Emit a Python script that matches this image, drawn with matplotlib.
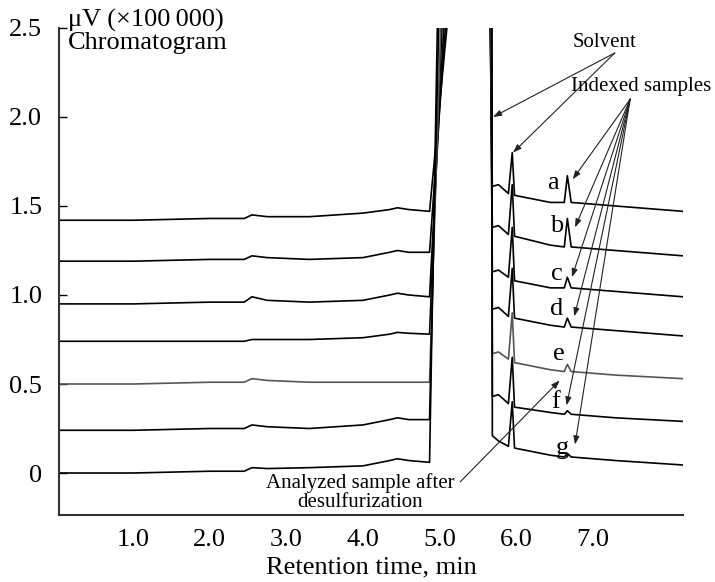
import matplotlib
matplotlib.use("Agg")
import matplotlib.pyplot as plt

plt.rcParams['font.family'] = ['Liberation Serif', 'DejaVu Serif']

# retention times (min) before and after the off-scale solvent peak
left_t = [0.03, 1.0, 2.0, 2.45, 2.55, 2.75, 3.3, 4.0, 4.35, 4.45, 4.6, 4.87]
right_t = [5.69, 5.77, 5.90, 5.95, 5.98, 6.45, 6.63, 6.67, 6.72, 7.3, 8.18]
solvent_level = 2.7  # off scale, clipped by the axes

labels = ['a', 'b', 'c', 'd', 'e', 'f', 'g']
rise_top = [5.14, 5.11, 5.08, 5.05, 5.03, 5.00, 4.98]
fall_top = [5.655, 5.66, 5.665, 5.67, 5.675, 5.68, 5.685]

# signal (x100 000 uV), 12 points on left_t then 11 points on right_t
trace_a = [1.42, 1.42, 1.43, 1.43, 1.45, 1.44, 1.44, 1.46, 1.48, 1.49, 1.48, 1.47,
           1.61, 1.62, 1.57, 1.80, 1.56, 1.52, 1.52, 1.67, 1.52, 1.50, 1.47]
trace_b = [1.19, 1.19, 1.20, 1.20, 1.22, 1.21, 1.20, 1.21, 1.24, 1.25, 1.24, 1.24,
           1.38, 1.39, 1.34, 1.62, 1.33, 1.28, 1.27, 1.43, 1.27, 1.25, 1.22]
trace_c = [0.95, 0.95, 0.96, 0.96, 0.99, 0.97, 0.96, 0.97, 1.00, 1.01, 1.00, 0.99,
           1.13, 1.14, 1.10, 1.38, 1.08, 1.04, 1.04, 1.10, 1.04, 1.02, 0.99]
trace_d = [0.74, 0.74, 0.74, 0.74, 0.75, 0.75, 0.75, 0.76, 0.78, 0.79, 0.785, 0.78,
           0.92, 0.93, 0.88, 1.15, 0.87, 0.83, 0.82, 0.87, 0.82, 0.80, 0.77]
trace_e = [0.50, 0.50, 0.51, 0.51, 0.53, 0.52, 0.51, 0.51, 0.51, 0.51, 0.51, 0.51,
           0.67, 0.68, 0.64, 0.90, 0.62, 0.58, 0.57, 0.61, 0.57, 0.55, 0.53]
trace_f = [0.24, 0.24, 0.25, 0.25, 0.27, 0.26, 0.25, 0.27, 0.30, 0.31, 0.30, 0.30,
           0.43, 0.44, 0.39, 0.65, 0.37, 0.34, 0.33, 0.35, 0.33, 0.31, 0.29]
trace_g = [0.00, 0.00, 0.01, 0.01, 0.03, 0.025, 0.03, 0.04, 0.07, 0.08, 0.07, 0.06,
           0.21, 0.18, 0.15, 0.40, 0.14, 0.10, 0.09, 0.11, 0.09, 0.07, 0.045]
traces = [trace_a, trace_b, trace_c, trace_d, trace_e, trace_f, trace_g]
colors = ['black', 'black', 'black', 'black', '#555555', 'black', 'black']

# label positions (min, signal) and arrow targets
label_pos = [(6.48, 1.63), (6.53, 1.39), (6.53, 1.12), (6.53, 0.92),
             (6.56, 0.67), (6.52, 0.40), (6.60, 0.14)]
indexed_tips = [(6.74, 1.65), (6.77, 1.38), (6.73, 1.10), (6.76, 0.88),
                (6.66, 0.38), (6.77, 0.16)]
solvent_tips = [(5.70, 2.0), (5.96, 1.80)]

xticks = [1, 2, 3, 4, 5, 6, 7]
yticks = [0, 0.5, 1.0, 1.5, 2.0, 2.5]

fig = plt.figure(figsize=(7.15, 5.82), dpi=100)
ax = fig.add_axes([0.0825, 0.1151, 0.8727, 0.8368])

n_left = len(left_t)
for i, tr in enumerate(traces):
    t = left_t + [rise_top[i], fall_top[i]] + right_t
    y = tr[:n_left] + [solvent_level, solvent_level] + tr[n_left:]
    ax.plot(t, y, color=colors[i], lw=1.2)

for lab, (x, y) in zip(labels, label_pos):
    ax.text(x, y, lab, fontsize=19, ha='center', va='center')

arrow = dict(arrowstyle='-|>,head_length=0.5,head_width=0.18', color='#222222', lw=0.8,
             shrinkA=0, shrinkB=0)
ax.text(7.15, 2.42, 'Solvent', fontsize=15, ha='center', va='center')
for tip in solvent_tips:
    ax.annotate('', xy=tip, xytext=(7.29, 2.36), arrowprops=arrow)

ax.text(7.63, 2.17, 'Indexed samples', fontsize=15, ha='center', va='center')
for tip in indexed_tips:
    ax.annotate('', xy=tip, xytext=(7.49, 2.10), arrowprops=arrow)

ax.text(3.96, -0.11, 'Analyzed sample after\ndesulfurization', fontsize=15,
        ha='center', va='center', linespacing=0.95)
ax.annotate('', xy=(6.57, 0.52), xytext=(5.27, -0.05), arrowprops=arrow)

ax.set_xlim(0.03, 8.18)
ax.set_ylim(-0.236, 2.5)
ax.set_xticks(xticks)
ax.set_xticklabels([f'{v:.1f}' for v in xticks])
ax.set_yticks(yticks)
ax.set_yticklabels(['0', '0.5', '1.0', '1.5', '2.0', '2.5'])
ax.tick_params(axis='y', direction='in', length=6, width=1, labelsize=19, pad=12)
ax.tick_params(axis='x', length=0, labelsize=19, pad=10)
ax.set_xlabel('Retention time, min', fontsize=19, labelpad=4)

for side in ['top', 'right']:
    ax.spines[side].set_visible(False)
for side in ['left', 'bottom']:
    ax.spines[side].set_linewidth(1.5)
    ax.spines[side].set_color('#333333')

fig.text(68 / 715, 1 - 20 / 582, 'μV (×100\u2009000)', fontsize=19, va='center')
fig.text(68 / 715, 1 - 43 / 582, 'Chromatogram', fontsize=19, va='center')

fig.savefig('out.png', dpi=100)
